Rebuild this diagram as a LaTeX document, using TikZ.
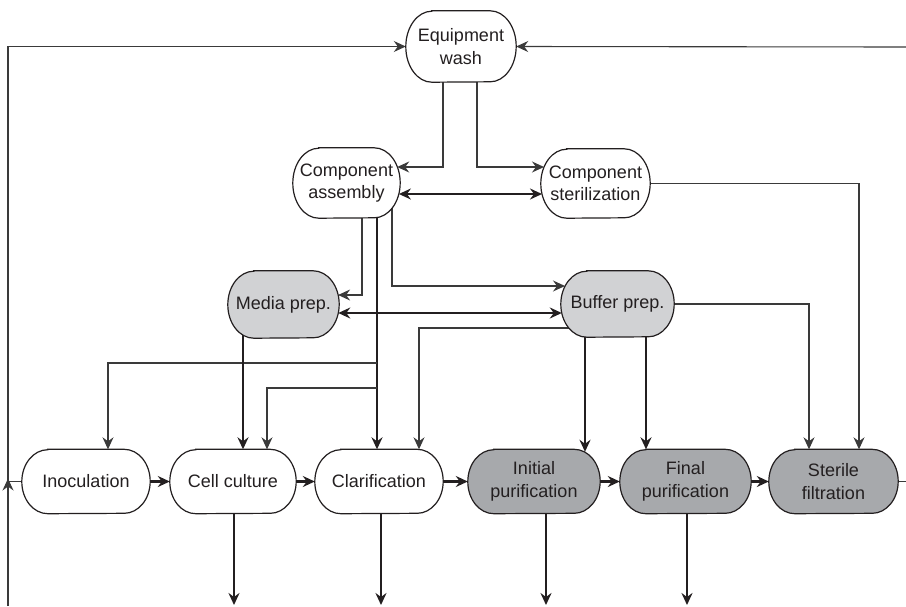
\documentclass[tikz,border=0pt]{standalone}
\usepackage{fontspec}
\setmainfont{Liberation Sans}
\usetikzlibrary{arrows.meta}
\definecolor{ink}{HTML}{231F20}
\definecolor{thinink}{HTML}{3A3A3A}
\definecolor{prepfill}{HTML}{D1D2D4}
\definecolor{purfill}{HTML}{A7A9AC}
\pgfdeclarelayer{conn}
\pgfdeclarelayer{shapes}
\pgfsetlayers{conn,shapes,main}
% capsule outline with elliptical ends: node name, half height (pt), fill colour
\newcommand{\capsule}[3]{%
  \path[capsulebox,fill=#3] ([xshift=26pt]#1.north west) -- ([xshift=-26pt]#1.north east)
    arc[start angle=90,end angle=-90,x radius=26pt,y radius=#2pt]
    -- ([xshift=26pt]#1.south west)
    arc[start angle=270,end angle=90,x radius=26pt,y radius=#2pt] -- cycle;}
\tikzset{
  txt/.style={inner sep=0pt, align=center, text=ink, font=\fontsize{18}{22.5}\selectfont},
  capsulebox/.style={draw=ink, line width=1.2pt},
  arr/.style={-{Stealth[length=12pt,width=11pt,inset=4pt]}},
  arrtwo/.style={{Stealth[length=12pt,width=11pt,inset=4pt]}-{Stealth[length=12pt,width=11pt,inset=4pt]}},
  thinln/.style={draw=thinink, line width=1.1pt},
  thickln/.style={draw=ink, line width=2.2pt},
}
\begin{document}
\begin{tikzpicture}[x=1pt,y=-1pt]
\useasboundingbox (0,0) rectangle (906,606);

% process steps
\node[txt, minimum width=110pt, minimum height=71pt] (ew) at (461,46.5) {Equipment\\wash};
\node[txt, minimum width=107pt, minimum height=70pt] (ca) at (346.5,183) {Component\\assembly};
\node[txt, minimum width=109pt, minimum height=69pt] (cs) at (595.5,183.5) {Component\\sterilization};
\node[txt, minimum width=111pt, minimum height=67pt] (mp) at (283.5,304.5) {Media prep.};
\node[txt, minimum width=113pt, minimum height=66pt] (bp) at (617.5,304) {Buffer prep.};
\node[txt, minimum width=128pt, minimum height=64pt] (ino) at (86,481.5) {Inoculation};
\node[txt, minimum width=126pt, minimum height=64pt] (cc) at (233,481.5) {Cell culture};
\node[txt, minimum width=128pt, minimum height=64pt] (cl) at (379,481.5) {Clarification};
\node[txt, minimum width=132pt, minimum height=64pt] (ip) at (534,481.5) {Initial\\purification};
\node[txt, minimum width=131pt, minimum height=64pt] (fp) at (685.5,481.5) {Final\\purification};
\node[txt, minimum width=129pt, minimum height=64pt] (sf) at (833.5,481.5) {Sterile\\filtration};

% junctions and free ends
\coordinate (j1) at (377,363);
\coordinate (j2) at (377,388);
\coordinate (lb) at (8,606);
\coordinate (lj) at (8,481.5);
\coordinate (rt) at (906,47);
\coordinate (rr) at (906,481.5);
\coordinate (o1) at (234,605);
\coordinate (o2) at (381,605);
\coordinate (o3) at (546,605);
\coordinate (o4) at (687,605);

\begin{pgfonlayer}{shapes}
  \capsule{ew}{35.5}{white}
  \capsule{ca}{35}{white}
  \capsule{cs}{34.5}{white}
  \capsule{mp}{33.5}{prepfill}
  \capsule{bp}{33}{prepfill}
  \capsule{ino}{32}{white}
  \capsule{cc}{32}{white}
  \capsule{cl}{32}{white}
  \capsule{ip}{32}{purfill}
  \capsule{fp}{32}{purfill}
  \capsule{sf}{32}{purfill}
\end{pgfonlayer}

\begin{pgfonlayer}{conn}
  % equipment wash loop
  \draw[thinln,arr] ([xshift=-18pt]ew.center) |- ([xshift=-3pt,yshift=16pt]ca.east);
  \draw[thinln,arr] ([xshift=16pt]ew.center) |- ([xshift=3.2pt,yshift=16.5pt]cs.west);
  \draw[thickln,arrtwo] ([xshift=-1.3pt,yshift=-11pt]ca.east) -- ([xshift=1.2pt,yshift=-10.5pt]cs.west);
  \draw[thinln,arr] (cs.center) -| ([xshift=25.5pt]sf.north);
  \draw[thinln,arr] (ino.center) -- (lj) |- (ew.west);
  \draw[thinln,arr] (lb) -- ([yshift=3pt]lj);
  \draw[thinln,arr] (rt) -- (ew.east);
  \draw[thinln] (sf.center) -- (rr);

  % component assembly outputs
  \draw[thinln,arr] ([xshift=15.5pt]ca.center) |- ([xshift=-1.1pt,yshift=9.5pt]mp.east);
  \draw[thickln,arr] ([xshift=30.5pt]ca.center) -- ([xshift=-2pt]cl.north);
  \draw[thinln,arr] ([xshift=45.5pt]ca.center) |- ([xshift=4.2pt,yshift=18pt]bp.west);
  \draw[thinln,arr] (j1) -| ([xshift=22pt]ino.north);
  \draw[thinln,arr] (j2) -| ([xshift=34pt]cc.north);

  % media and buffer preparation
  \draw[thickln,arrtwo] ([xshift=-0.9pt,yshift=-8.5pt]mp.east) -- ([xshift=1pt,yshift=-9pt]bp.west);
  \draw[thickln,arr] ([xshift=-40.5pt]mp.center) -- ([xshift=10pt]cc.north);
  \draw[thinln,arr] ([yshift=-24pt]bp.center) -| ([xshift=40pt]cl.north);
  \draw[thickln,arr] ([xshift=-32.5pt]bp.center) -- ([xshift=51pt,yshift=-2.5pt]ip.north);
  \draw[thickln,arr] ([xshift=28.5pt]bp.center) -- ([xshift=-39.5pt]fp.north);
  \draw[thinln,arr] (bp.center) -| ([xshift=-24.5pt]sf.north);

  % main process train
  \draw[thickln,arr] (ino.east) -- (cc.west);
  \draw[thickln,arr] (cc.east) -- (cl.west);
  \draw[thickln,arr] (cl.east) -- (ip.west);
  \draw[thickln,arr] (ip.east) -- (fp.west);
  \draw[thickln,arr] (fp.east) -- (sf.west);

  % outgoing streams
  \draw[thickln,arr] ([xshift=1pt]cc.center) -- (o1);
  \draw[thickln,arr] ([xshift=2pt]cl.center) -- (o2);
  \draw[thickln,arr] ([xshift=12pt]ip.center) -- (o3);
  \draw[thickln,arr] ([xshift=1.5pt]fp.center) -- (o4);
\end{pgfonlayer}
\end{tikzpicture}
\end{document}
